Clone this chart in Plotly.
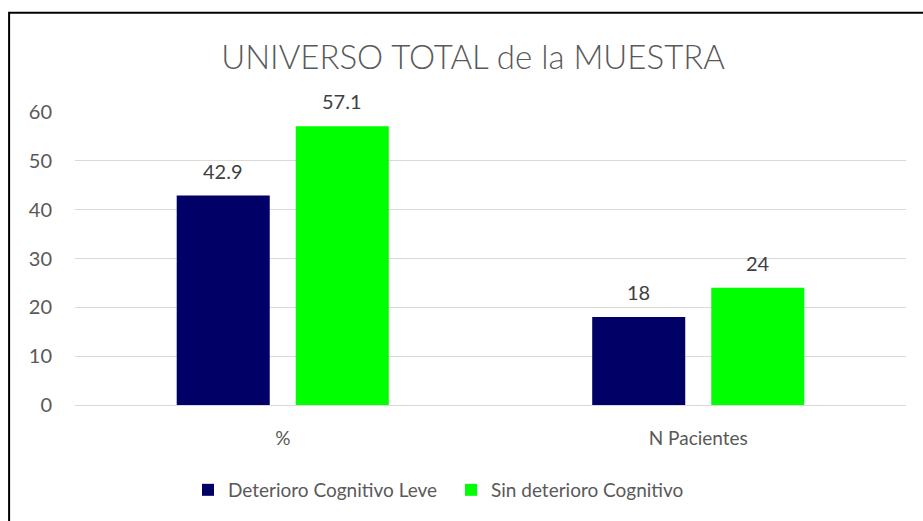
import plotly.graph_objects as go

# datos
categorias = ["%", "N Pacientes"]
deterioro_leve = [42.9, 18]
sin_deterioro = [57.1, 24]
series = ["Deterioro Cognitivo Leve", "Sin deterioro Cognitivo"]
colores = ["#000066", "#00FF00"]

fig = go.Figure()
for nombre, valores, color in zip(series, [deterioro_leve, sin_deterioro], colores):
    fig.add_trace(go.Bar(x=categorias, y=valores, name=nombre,
                         marker=dict(color=color, line=dict(width=0))))

# etiquetas de datos encima de cada barra
anots = []
for i, valores in enumerate([deterioro_leve, sin_deterioro]):
    for cat, v in zip(categorias, valores):
        anots.append(dict(x=cat, y=v, text=str(v), showarrow=False,
                          xshift=(-59.5 if i == 0 else 59.5), yshift=25,
                          yanchor="middle",
                          font=dict(size=20, color="#404040")))

fig.update_layout(
    width=923, height=521,
    margin=dict(l=75, r=17, t=112, b=114),
    paper_bgcolor="white", plot_bgcolor="white",
    font=dict(family="Lato", color="#595959"),
    title=dict(text="UNIVERSO TOTAL de la MUESTRA", x=0.5125, xanchor="center",
               y=1 - 57 / 521, yanchor="middle",
               font=dict(size=33, color="#595959", weight=300)),
    barmode="group", bargap=0.427, bargroupgap=0.2185,
    annotations=anots,
    legend=dict(orientation="h", x=0.136, xanchor="left", y=-0.29, yanchor="middle",
                font=dict(size=19, color="#595959"), itemwidth=30,
                entrywidth=218, traceorder="normal"),
    shapes=[dict(type="rect", xref="paper", yref="paper",
                 x0=-0.0793, x1=1.06, y0=-0.45, y1=1.339,
                 line=dict(color="black", width=2), fillcolor="rgba(0,0,0,0)")],
)
fig.update_yaxes(range=[0, 60], dtick=10, showgrid=True, gridcolor="#d9d9d9",
                 gridwidth=1, zeroline=False, showline=False, automargin=False,
                 tickfont=dict(size=20, color="#595959"), ticklabelstandoff=22)
fig.update_xaxes(showline=True, linecolor="#d9d9d9", linewidth=1, automargin=False,
                 tickfont=dict(size=19, color="#595959"), ticklabelstandoff=16)

fig.write_html("out.html", config={"displayModeBar": False},
               post_script="document.body.style.margin='0';")
